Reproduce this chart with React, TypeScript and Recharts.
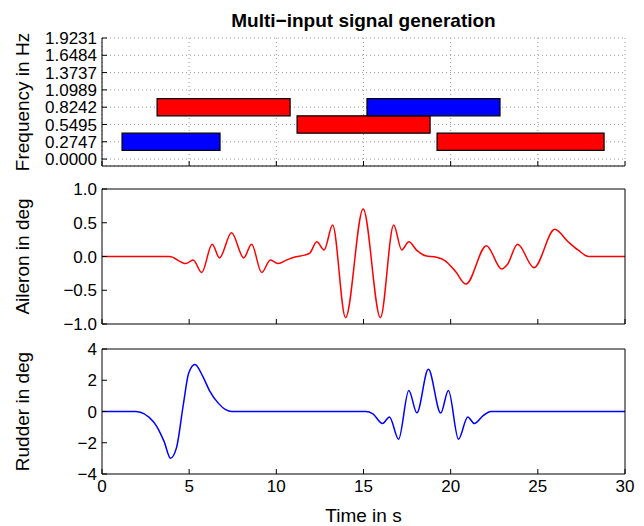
import React from 'react';
import { LineChart, Line, XAxis, YAxis, CartesianGrid, ReferenceArea } from 'recharts';

// ---------- data ----------
const timeTicks = [0, 5, 10, 15, 20, 25, 30];

const freqTicks = [0, 0.2747, 0.5495, 0.8242, 1.0989, 1.3737, 1.6484, 1.9231];
const freqTickLabels = ['0.0000', '0.2747', '0.5495', '0.8242', '1.0989', '1.3737', '1.6484', '1.9231'];

// frequency bands (time span and frequency span), per input
const bandStart = [1.15, 3.16, 11.19, 15.2, 19.22];
const bandEnd = [6.77, 10.79, 18.82, 22.83, 28.8];
const bandLow = [0.1374, 0.6868, 0.4121, 0.6868, 0.1374];
const bandHigh = [0.4121, 0.9615, 0.6868, 0.9615, 0.4121];
const bandInput = ['rudder', 'aileron', 'aileron', 'rudder', 'aileron'];

const aileronTime = [0, 3.87, 4.81, 5.23, 5.72, 6.32, 6.74, 7.43, 8.13, 8.58, 9.16, 9.66, 10.11, 10.61, 11.01, 11.62, 11.92, 12.32, 12.74, 13.23, 13.97, 14.98, 15.97, 16.73, 17.19, 17.6, 18.06, 18.56, 19.17, 19.67, 20.27, 20.88, 22.05, 22.93, 23.25, 23.84, 24.78, 25.97, 26.72, 27.32, 27.92, 30];
const aileronDeg = [0, 0, -0.104, -0.052, -0.238, 0.181, -0.021, 0.352, -0.021, 0.181, -0.238, -0.052, -0.104, -0.05, -0.01, 0.02, 0.05, 0.218, 0.098, 0.466, -0.907, 0.705, -0.907, 0.466, 0.098, 0.218, 0.09, 0.01, -0.01, -0.06, -0.22, -0.409, 0.161, -0.187, -0.12, 0.181, -0.166, 0.404, 0.223, 0.093, 0, 0];
const aileronTicks = [-1, -0.5, 0, 0.5, 1];
const aileronTickLabels = ['\u22121.0', '\u22120.5', '0.0', '0.5', '1.0'];

const rudderTime = [0, 1.95, 2.96, 3.56, 3.93, 4.27, 4.67, 4.97, 5.33, 5.78, 6.18, 6.68, 7.09, 7.45, 15.14, 15.54, 16.09, 16.49, 17.01, 17.6, 18.06, 18.72, 19.43, 19.87, 20.45, 20.98, 21.36, 21.88, 22.29, 30];
const rudderDeg = [0, 0, -0.67, -1.91, -2.99, -2.33, 0.48, 2.45, 3.01, 2.25, 1.31, 0.52, 0.12, 0, 0, -0.15, -0.77, -0.35, -1.77, 1.35, -0.08, 2.7, -0.1, 1.35, -1.77, -0.35, -0.77, -0.25, 0, 0];
const rudderTicks = [-4, -2, 0, 2, 4];
const rudderTickLabels = ['\u22124', '\u22122', '0', '2', '4'];

// ---------- styling ----------
const FONT = '"Liberation Sans", Arial, Helvetica, sans-serif';
const W = 644;
const YW = 102;
const RM = 19;
const inputColor: Record<string, string> = { aileron: '#ff0000', rudder: '#0000ff' };

const bandData = bandStart.map((s, i) => ({ t: s, f: bandLow[i] }));
const aileronData = aileronTime.map((t, i) => ({ t, v: aileronDeg[i] }));
const rudderData = rudderTime.map((t, i) => ({ t, v: rudderDeg[i] }));

const tickStyle = { fontSize: 17, fill: '#000', fontFamily: FONT };
const axisStroke = { stroke: '#000', strokeWidth: 1 };

const yLabel = (text: string) => ({
  value: text,
  angle: -90,
  position: 'insideLeft' as const,
  offset: 22,
  fontSize: 19,
  fill: '#000',
  style: { textAnchor: 'middle', fontSize: 19, fill: '#000', fontFamily: FONT },
});

const fmt = (ticks: number[], labels: string[]) => (v: number) => {
  const i = ticks.indexOf(v);
  return i >= 0 ? labels[i] : '';
};

const blank = () => '';

export default function App() {
  return (
    <div style={{ position: 'absolute', left: 0, top: 0, width: W, height: 526, background: '#fff', overflow: 'hidden', fontFamily: FONT }}>
      {/* Panel 1: frequency bands */}
      <div style={{ position: 'absolute', left: 0, top: 0 }}>
        <LineChart width={W} height={180} data={bandData} margin={{ top: 37, right: RM, bottom: 0, left: 0 }}>
          <CartesianGrid stroke="#9a9a9a" strokeDasharray="1 3" />
          <XAxis xAxisId={0} dataKey="t" type="number" domain={[0, 30]} ticks={timeTicks} interval={0} allowDataOverflow
            height={14} tickSize={-5} tickFormatter={blank} axisLine={axisStroke} tickLine={axisStroke} />
          <XAxis xAxisId="title" orientation="top" type="number" domain={[0, 30]} ticks={timeTicks} allowDataOverflow height={1}
            axisLine={false} tickLine={false} tick={false}
            label={{ value: 'Multi\u2212input signal generation', position: 'top', offset: 10, fontSize: 19, fill: '#000',
              style: { fontWeight: 'bold', fontSize: 19, fill: '#000', fontFamily: FONT } }} />
          <YAxis yAxisId={0} type="number" domain={[-0.11, 1.9231]} ticks={freqTicks} interval={0} allowDataOverflow width={YW}
            tickSize={-5} tickMargin={10} tick={tickStyle} tickFormatter={fmt(freqTicks, freqTickLabels)}
            axisLine={axisStroke} tickLine={axisStroke} label={yLabel('Frequency in Hz')} />
          {bandStart.map((s, i) => (
            <ReferenceArea key={i} xAxisId={0} yAxisId={0} x1={s} x2={bandEnd[i]} y1={bandLow[i]} y2={bandHigh[i]}
              fill={inputColor[bandInput[i]]} fillOpacity={1} stroke="#000" strokeWidth={1.2} ifOverflow="visible" />
          ))}
        </LineChart>
      </div>

      {/* Panel 2: aileron */}
      <div style={{ position: 'absolute', left: 0, top: 170 }}>
        <LineChart width={W} height={168} data={aileronData} margin={{ top: 18, right: RM - 1, bottom: 0, left: 0 }}>
          <XAxis xAxisId={0} dataKey="t" type="number" domain={[0, 30]} ticks={timeTicks} interval={0} allowDataOverflow
            height={14} tickSize={-5} tickFormatter={blank} axisLine={axisStroke} tickLine={axisStroke} />
          <XAxis xAxisId="top" orientation="top" type="number" domain={[0, 30]} ticks={timeTicks} interval={0} allowDataOverflow
            height={1} tickSize={-5} tick={false} axisLine={axisStroke} tickLine={axisStroke} />
          <YAxis yAxisId={0} type="number" domain={[-1, 1]} ticks={aileronTicks} interval={0} allowDataOverflow width={YW}
            tickSize={-5} tickMargin={10} tick={tickStyle} tickFormatter={fmt(aileronTicks, aileronTickLabels)}
            axisLine={axisStroke} tickLine={axisStroke} label={yLabel('Aileron in deg')} />
          <YAxis yAxisId="right" orientation="right" type="number" domain={[-1, 1]} ticks={aileronTicks} interval={0} allowDataOverflow
            width={1} tickSize={-5} tick={false} axisLine={axisStroke} tickLine={axisStroke} />
          <Line xAxisId={0} yAxisId={0} dataKey="v" type="monotone" stroke="#ff0000" strokeWidth={1.5} dot={false} isAnimationActive={false} />
        </LineChart>
      </div>

      {/* Panel 3: rudder */}
      <div style={{ position: 'absolute', left: 0, top: 330 }}>
        <LineChart width={W} height={196} data={rudderData} margin={{ top: 18, right: RM - 1, bottom: 0, left: 0 }}>
          <XAxis xAxisId={0} dataKey="t" type="number" domain={[0, 30]} ticks={timeTicks} interval={0} allowDataOverflow
            height={52} tickSize={-5} tickMargin={11} tick={tickStyle} axisLine={axisStroke} tickLine={axisStroke}
            label={{ value: 'Time in s', position: 'insideBottom', offset: 4, fontSize: 19, fill: '#000',
              style: { fontSize: 19, fill: '#000', fontFamily: FONT } }} />
          <XAxis xAxisId="top" orientation="top" type="number" domain={[0, 30]} ticks={timeTicks} interval={0} allowDataOverflow
            height={1} tickSize={-5} tick={false} axisLine={axisStroke} tickLine={axisStroke} />
          <YAxis yAxisId={0} type="number" domain={[-4, 4]} ticks={rudderTicks} interval={0} allowDataOverflow width={YW}
            tickSize={-5} tickMargin={10} tick={tickStyle} tickFormatter={fmt(rudderTicks, rudderTickLabels)}
            axisLine={axisStroke} tickLine={axisStroke} label={yLabel('Rudder in deg')} />
          <YAxis yAxisId="right" orientation="right" type="number" domain={[-4, 4]} ticks={rudderTicks} interval={0} allowDataOverflow
            width={1} tickSize={-5} tick={false} axisLine={axisStroke} tickLine={axisStroke} />
          <Line xAxisId={0} yAxisId={0} dataKey="v" type="monotone" stroke="#0000ff" strokeWidth={1.5} dot={false} isAnimationActive={false} />
        </LineChart>
      </div>
    </div>
  );
}
